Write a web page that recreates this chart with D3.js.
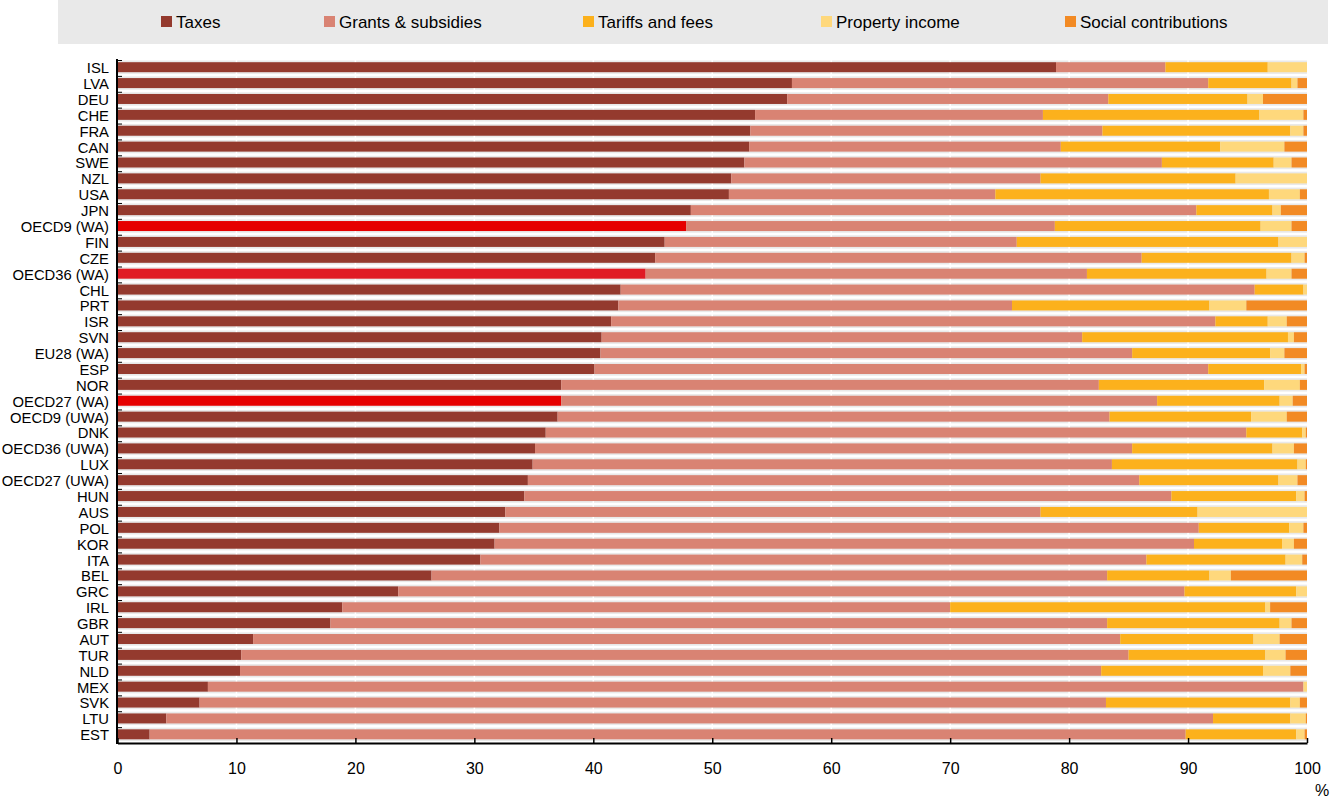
<!DOCTYPE html>
<html>
<head>
<meta charset="utf-8">
<script src="https://cdn.jsdelivr.net/npm/d3@7"></script>
<style>
  html, body { margin: 0; padding: 0; background: #fff; }
  svg { display: block; font-family: "Liberation Sans", Arial, sans-serif; }
</style>
</head>
<body>
<svg id="chart" width="1334" height="799"></svg>
<script>
const categories = ["ISL","LVA","DEU","CHE","FRA","CAN","SWE","NZL","USA","JPN","OECD9 (WA)","FIN","CZE","OECD36 (WA)","CHL","PRT","ISR","SVN","EU28 (WA)","ESP","NOR","OECD27 (WA)","OECD9 (UWA)","DNK","OECD36 (UWA)","LUX","OECD27 (UWA)","HUN","AUS","POL","KOR","ITA","BEL","GRC","IRL","GBR","AUT","TUR","NLD","MEX","SVK","LTU","EST"];
const taxes    = [78.9,56.7,56.3,53.6,53.2,53.1,52.7,51.6,51.4,48.2,47.8,46.0,45.2,44.4,42.3,42.1,41.5,40.7,40.6,40.1,37.3,37.3,37.0,36.0,35.1,34.9,34.5,34.2,32.6,32.1,31.7,30.5,26.4,23.6,18.9,17.9,11.4,10.4,10.3,7.6,6.9,4.1,2.7];
const grants   = [9.2,35.0,27.0,24.2,29.6,26.2,35.1,26.0,22.4,42.5,31.0,29.6,40.9,37.1,53.3,33.1,50.8,40.4,44.7,51.6,45.2,50.1,46.4,58.9,50.2,48.7,51.4,54.4,45.0,58.8,58.8,56.0,56.8,66.1,51.1,65.3,72.9,74.6,72.4,92.1,76.2,88.0,87.1];
const tariffs  = [8.6,7.0,11.7,18.2,15.8,13.4,9.4,16.4,23.0,6.4,17.3,22.0,12.6,15.1,4.1,16.6,4.4,17.3,11.6,7.8,13.9,10.3,11.9,4.7,11.8,15.6,11.7,10.5,13.2,7.6,7.4,11.7,8.6,9.4,26.5,14.5,11.2,11.5,13.6,0,15.5,6.5,9.3];
const property = [3.3,0.5,1.3,3.7,1.1,5.4,1.5,6.0,2.6,0.7,2.6,2.4,1.1,2.1,0.3,3.1,1.6,0.5,1.2,0.3,3.0,1.1,3.0,0.3,1.8,0.7,1.6,0.7,9.2,1.2,1.0,1.4,1.8,0.9,0.4,1.0,2.2,1.7,2.3,0.3,0.8,1.3,0.7];
const social   = [0,0.8,3.7,0.3,0.3,1.9,1.3,0,0.6,2.2,1.3,0,0.2,1.3,0,5.1,1.7,1.1,1.9,0.2,0.6,1.2,1.7,0.1,1.1,0.1,0.8,0.2,0,0.3,1.1,0.4,6.4,0,3.1,1.3,2.3,1.8,1.4,0,0.6,0.1,0.2];
const seriesNames = ["Taxes","Grants & subsidies","Tariffs and fees","Property income","Social contributions"];
const xTicks = [0,10,20,30,40,50,60,70,80,90,100];

const colors = ["#943a2e","#d98373","#fcb11c","#fed87c","#f28a24"];
const highlightColors = {"OECD9 (WA)": "#e60000", "OECD36 (WA)": "#e01b24", "OECD27 (WA)": "#e60000"};

const keys = ["taxes","grants","tariffs","property","social"];
const rows = categories.map((c, i) => ({cat: c, taxes: taxes[i], grants: grants[i], tariffs: tariffs[i], property: property[i], social: social[i]}));
const stacked = d3.stack().keys(keys)(rows);

const svg = d3.select("#chart");
const x = d3.scaleLinear().domain([0, 100]).range([117.5, 1307]);
const y = d3.scaleBand().domain(categories).range([60, 743]).paddingInner(0).paddingOuter(0);
const step = y.step();

// Legend
svg.append("rect").attr("x", 58).attr("y", 0).attr("width", 1270).attr("height", 44).attr("fill", "#e9e9e9");
const legendX = [161, 324, 583, 821, 1065];
const lg = svg.append("g");
seriesNames.forEach((name, i) => {
  lg.append("rect").attr("x", legendX[i]).attr("y", 16).attr("width", 11).attr("height", 11).attr("fill", colors[i]);
  lg.append("text").attr("x", legendX[i] + 15).attr("y", 28).attr("font-size", 17).attr("fill", "#000").text(name);
});

// Row background stripes
svg.append("g").selectAll("rect").data(categories).join("rect")
  .attr("x", x(0)).attr("y", d => y(d) + 0.5).attr("width", x(100) - x(0)).attr("height", step - 2.5)
  .attr("fill", "#e9e9e9");

// Vertical gridlines
svg.append("g").selectAll("line").data(xTicks.slice(1, -1)).join("line")
  .attr("x1", d => x(d)).attr("x2", d => x(d)).attr("y1", 60).attr("y2", 743)
  .attr("stroke", "#fff").attr("stroke-width", 1.5);

// Bars
const barH = 10;
svg.append("g").selectAll("g").data(stacked).join("g")
  .each(function(s, si) {
    d3.select(this).selectAll("rect").data(s).join("rect")
      .attr("x", d => x(d[0]))
      .attr("y", d => y(d.data.cat) + 2.2)
      .attr("width", d => Math.max(0, x(d[1]) - x(d[0])))
      .attr("height", barH)
      .attr("fill", d => (si === 0 && highlightColors[d.data.cat]) ? highlightColors[d.data.cat] : colors[si]);
  });

// Y axis
const ya = svg.append("g");
ya.append("line").attr("x1", 117).attr("x2", 117).attr("y1", 59).attr("y2", 744).attr("stroke", "#000").attr("stroke-width", 2);
ya.selectAll("line.tk").data(categories).join("line").attr("class", "tk")
  .attr("x1", 117).attr("x2", 122).attr("y1", d => y(d) + 0.5).attr("y2", d => y(d) + 0.5)
  .attr("stroke", "#000").attr("stroke-width", 1);
ya.selectAll("text").data(categories).join("text")
  .attr("x", 109).attr("y", d => y(d) + step / 2 + 5.2)
  .attr("text-anchor", "end").attr("font-size", 14.8).attr("fill", "#000")
  .text(d => d);

// X axis
const xa = svg.append("g").attr("transform", "translate(0,743)")
  .call(d3.axisBottom(x).tickValues(xTicks).tickSize(-5).tickSizeOuter(0).tickPadding(20));
xa.select(".domain").attr("stroke", "#000").attr("stroke-width", 2);
xa.selectAll(".tick line").attr("stroke", "#000").attr("stroke-width", 1.5);
xa.selectAll(".tick text").attr("font-size", 16).attr("fill", "#000").attr("font-family", "\"Liberation Sans\", Arial, sans-serif");
svg.append("text").attr("x", 1322).attr("y", 796).attr("text-anchor", "middle").attr("font-size", 16).text("%");
</script>
</body>
</html>
